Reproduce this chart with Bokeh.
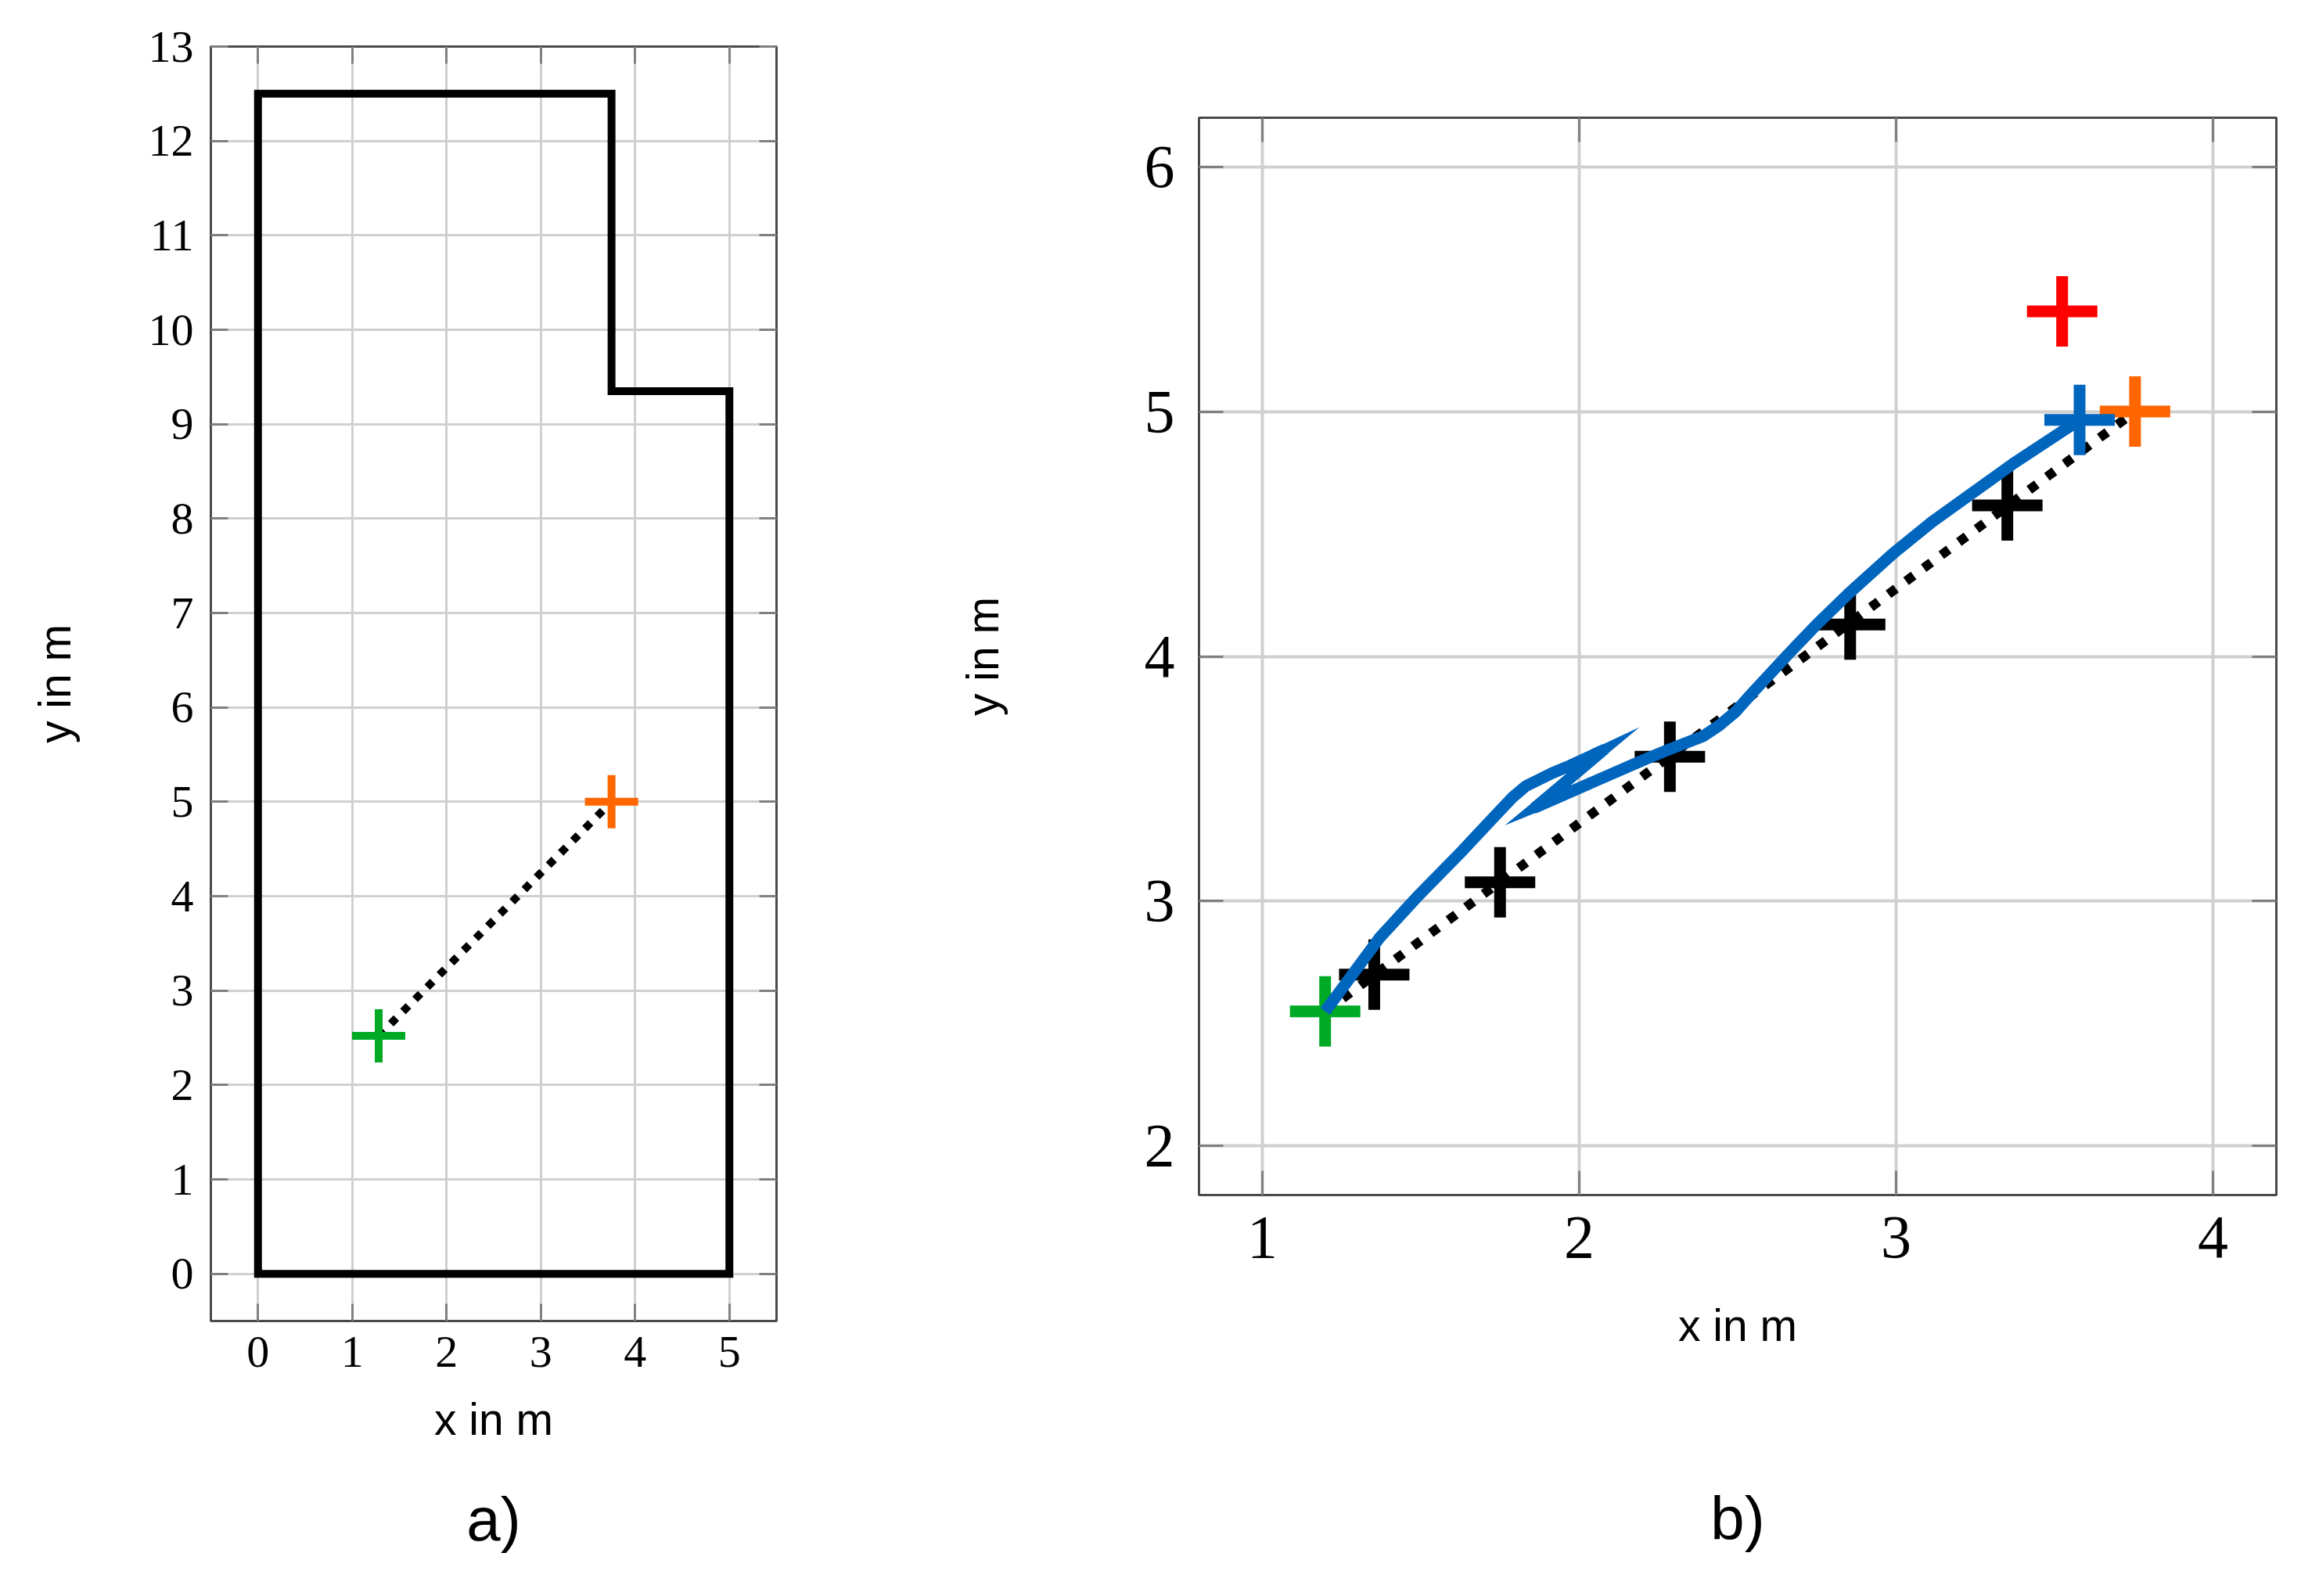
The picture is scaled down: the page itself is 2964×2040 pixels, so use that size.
from bokeh.embed import file_html
from bokeh.layouts import row
from bokeh.models import FixedTicker, LinearAxis, Range1d, Title
from bokeh.plotting import figure
from bokeh.resources import INLINE

# panel a) values
room_x = [0, 5, 5, 3.75, 3.75, 0]
room_y = [0, 0, 9.35, 9.35, 12.5, 12.5]
a_start_x = [1.28]
a_start_y = [2.52]
a_goal_x = [3.75]
a_goal_y = [5.0]
a_xticks = [0, 1, 2, 3, 4, 5]
a_yticks = list(range(0, 14))

# panel b) values
b_start_x = [1.198]
b_start_y = [2.55]
b_goal_x = [3.754]
b_goal_y = [5.0]
b_way_x = [1.353, 1.75, 2.286, 2.855, 3.351]
b_way_y = [2.70, 3.077, 3.59, 4.13, 4.617]
b_red_x = [3.524]
b_red_y = [5.409]
b_end_x = [3.579]
b_end_y = [4.966]
b_path_x = [1.198, 1.37, 1.496, 1.634, 1.723, 1.79, 1.831, 1.914, 1.971, 2.076, 1.862, 2.203, 2.284,
            2.391, 2.441, 2.492, 2.542, 2.656, 2.749, 2.853, 2.99, 3.114, 3.367, 3.579]
b_path_y = [2.55, 2.851, 3.028, 3.21, 3.333, 3.425, 3.47, 3.523, 3.554, 3.617, 3.384, 3.577, 3.62,
            3.674, 3.717, 3.772, 3.845, 4.004, 4.13, 4.26, 4.42, 4.55, 4.785, 4.966]
# sharp tips where the path doubles back
b_tip1_x = [2.190, 2.069, 2.076, 2.087]
b_tip1_y = [3.711, 3.637, 3.617, 3.600]
b_tip2_x = [1.765, 1.868, 1.862, 1.850]
b_tip2_y = [3.310, 3.364, 3.384, 3.401]
b_xticks = [1, 2, 3, 4]
b_yticks = [2, 3, 4, 5, 6]

GREEN = "#00aa25"
ORANGE = "#ff6600"
BLUE = "#0065bd"
RED = "#ff0000"
FRAME = "#4a4a4a"
TICK = "#808080"
GRID = "#d0d0d0"


def style(p, xticks, yticks, tick_len, tick_size, standoff_x, standoff_y, label_x, label_y,
          grid_w):
    top = LinearAxis()
    right = LinearAxis()
    p.add_layout(top, "above")
    p.add_layout(right, "right")
    for ax, ticks in ((p.xaxis, xticks), (p.yaxis, yticks)):
        ax.ticker = FixedTicker(ticks=ticks)
        ax.major_tick_in = tick_len
        ax.major_tick_out = 0
        ax.minor_tick_line_color = None
        ax.major_tick_line_color = TICK
        ax.major_tick_line_width = 3
        ax.axis_line_color = FRAME
        ax.axis_line_width = 3
        ax.major_label_text_font = "Liberation Serif"
        ax.major_label_text_font_size = tick_size
        ax.major_label_text_color = "black"
    p.below[0].major_label_standoff = label_x
    p.left[0].major_label_standoff = label_y
    top.major_label_overrides = {t: "" for t in xticks}
    right.major_label_overrides = {t: "" for t in yticks}
    top.major_label_standoff = 0
    right.major_label_standoff = 0
    for ax, off in ((p.below[0], standoff_x), (p.left[0], standoff_y)):
        ax.axis_label_text_font = "Liberation Sans"
        ax.axis_label_text_font_size = "57px"
        ax.axis_label_text_font_style = "normal"
        ax.axis_label_text_color = "black"
        ax.axis_label_standoff = off
    p.xgrid.ticker = FixedTicker(ticks=xticks)
    p.ygrid.ticker = FixedTicker(ticks=yticks)
    for g in (p.xgrid, p.ygrid):
        g.grid_line_color = GRID
        g.grid_line_width = grid_w
    p.outline_line_color = FRAME
    p.outline_line_width = 3
    p.background_fill_color = "white"
    p.border_fill_color = "white"


def panel_title(text, standoff):
    return Title(text=text, align="center", standoff=standoff, text_font="Liberation Sans",
                 text_font_size="78px", text_font_style="normal", text_color="black")


pa = figure(frame_width=723, frame_height=1629, min_border_left=269, min_border_right=158,
            min_border_top=59, min_border_bottom=332, frame_align=False,
            x_range=Range1d(-0.5, 5.5), y_range=Range1d(-0.5, 13),
            x_axis_label="x in m", y_axis_label="y in m",
            output_backend="svg", toolbar_location=None)
style(pa, a_xticks, a_yticks, 22, "58px", 32, 85, 20, 22, 3)
pa.patch(room_x, room_y, fill_color=None, line_color="black", line_width=10, line_join="miter")
pa.line(a_start_x + a_goal_x, a_start_y + a_goal_y, line_color="black", line_width=10,
        line_dash=[10, 12])
pa.scatter(a_start_x, a_start_y, marker="cross", size=68, fill_color=None,
           line_color=GREEN, line_width=10)
pa.scatter(a_goal_x, a_goal_y, marker="cross", size=68, fill_color=None,
           line_color=ORANGE, line_width=10)
pa.add_layout(panel_title("a)", 94), "below")

pb = figure(frame_width=1377, frame_height=1377, min_border_left=382, min_border_right=40,
            min_border_top=150, min_border_bottom=493, frame_align=False,
            x_range=Range1d(0.8, 4.2), y_range=Range1d(1.8, 6.2),
            x_axis_label="x in m", y_axis_label="y in m",
            output_backend="svg", toolbar_location=None)
style(pb, b_xticks, b_yticks, 31, "78px", 52, 172, 28, 31, 4)
pb.line(b_start_x + b_goal_x, b_start_y + b_goal_y, line_color="black", line_width=12,
        line_dash=[12, 16])
pb.scatter(b_way_x, b_way_y, marker="cross", size=90, fill_color=None,
           line_color="black", line_width=15)
pb.scatter(b_goal_x, b_goal_y, marker="cross", size=90, fill_color=None,
           line_color=ORANGE, line_width=15)
pb.scatter(b_red_x, b_red_y, marker="cross", size=90, fill_color=None,
           line_color=RED, line_width=15)
pb.scatter(b_start_x, b_start_y, marker="cross", size=90, fill_color=None,
           line_color=GREEN, line_width=15)
pb.line(b_path_x, b_path_y, line_color=BLUE, line_width=15, line_join="round")
pb.patch(b_tip1_x, b_tip1_y, fill_color=BLUE, line_color=None)
pb.patch(b_tip2_x, b_tip2_y, fill_color=BLUE, line_color=None)
pb.scatter(b_end_x, b_end_y, marker="cross", size=90, fill_color=None,
           line_color=BLUE, line_width=15)
pb.add_layout(panel_title("b)", 332), "below")

layout = row(pa, pb, spacing=0)
open("out.html", "w").write(file_html(layout, INLINE))
